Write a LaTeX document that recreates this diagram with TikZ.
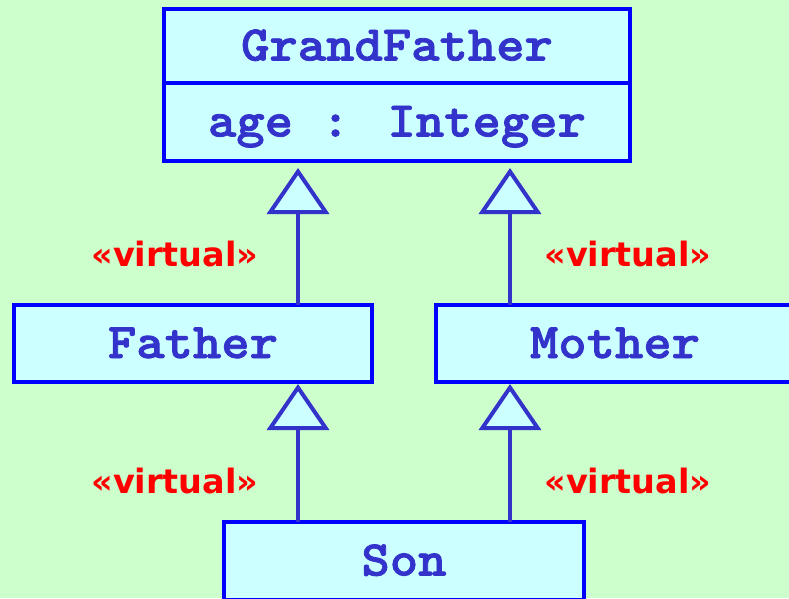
\documentclass[tikz,border=0pt]{standalone}
\usepackage{fontspec}
\newfontfamily\umlmono{lmmonolt10-bold.otf}[FakeStretch=1.08, FakeBold=1.6]
\newfontfamily\stereofont{DejaVu Sans}
\usetikzlibrary{arrows.meta,positioning,calc}
\definecolor{bggreen}{HTML}{CCFFCC}
\definecolor{boxcyan}{HTML}{CCFFFF}
\definecolor{boxedge}{HTML}{0000FF}
\definecolor{umlblue}{HTML}{3333CC}
\tikzset{
  uml/.style={x=1pt, y=-1pt},
  cls/.style={draw=boxedge, fill=boxcyan, line width=4pt, text=umlblue,
    font=\umlmono\fontsize{50}{50}\selectfont, inner sep=0pt,
    outer sep=0pt, text height=29pt, text depth=0pt},
  gen/.style={draw=umlblue, line width=4pt,
    -{Triangle[width=62pt,length=46pt,fill=boxcyan]}},
  stereo/.style={text=red, font=\stereofont\bfseries\fontsize{33.5}{33.5}\selectfont},
}

\begin{document}
\begin{tikzpicture}[uml]
  \useasboundingbox (0,0) rectangle (789,598);
  \fill[bggreen] (0,0) rectangle (789,598);
  % classes
  \node[cls, minimum width=466pt, minimum height=74pt] (gfname) at (397,46) {GrandFather};
  \node[cls, minimum width=466pt, minimum height=78pt, below=0pt of gfname] (gfattr) {age : Integer};
  \node[cls, minimum width=358pt, minimum height=77pt] (father) at (193,343.5) {Father};
  \node[cls, minimum width=358pt, minimum height=77pt] (mother) at (615,343.5) {Mother};
  \node[cls, minimum width=360pt, minimum height=78pt] (son) at (404,561) {Son};
  % generalisations
  \draw[gen, shorten >=7pt] ($(father.north east)+(-74pt,0)$) coordinate (fg)
    -- (fg |- gfattr.south);
  \draw[gen, shorten >=7pt] ($(mother.north west)+(74pt,0)$) coordinate (mg)
    -- (mg |- gfattr.south);
  \draw[gen, shorten >=2pt] ($(son.north west)+(74pt,0)$) coordinate (sf)
    -- (sf |- father.south);
  \draw[gen, shorten >=2pt] ($(son.north east)+(-74pt,0)$) coordinate (sm)
    -- (sm |- mother.south);
  % stereotypes
  \node[stereo] (lblfg) at (175,254) {«virtual»};
  \node[stereo] (lblmg) at (628,254) {«virtual»};
  \node[stereo] (lblsf) at (175,481) {«virtual»};
  \node[stereo] (lblsm) at (628,481) {«virtual»};
\end{tikzpicture}
\end{document}
